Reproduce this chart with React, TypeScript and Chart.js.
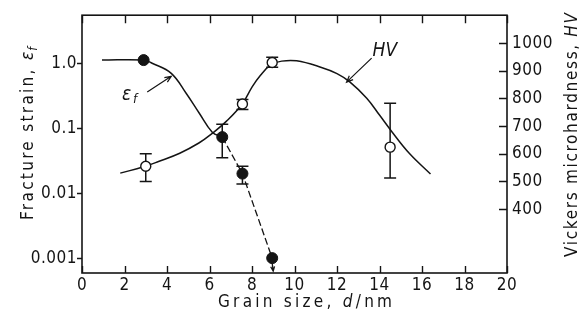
import React, { useEffect, useRef } from "react";
import { Chart, registerables } from "chart.js";
Chart.register(...registerables);

// ---------- data ----------
const xTickValues = [0, 2, 4, 6, 8, 10, 12, 14, 16, 18, 20];
const strainTickValues = [0.001, 0.01, 0.1, 1];
const strainTickLabels = ["0.001", "0.01", "0.1", "1.0"];
const hvTickValues = [400, 500, 600, 700, 800, 900, 1000];
const hvTickLabels = ["400", "500", "600", "700", "800", "900", "1000"];

// fracture strain measured points (filled)
const strainPointX = [2.9, 6.6, 7.55, 8.95];
const strainPointY = [1.12, 0.073, 0.02, 0.001];
const strainErrLow = [null, 0.035, 0.0138, null];
const strainErrHigh = [null, 0.115, 0.026, null];

// fracture strain guide curve (solid)
const strainCurveX = [0.94, 2.9, 3.3, 4.2, 4.9, 5.52, 6.13, 6.6];
const strainCurveY = [1.12, 1.12, 1.0, 0.7, 0.345, 0.17, 0.087, 0.073];

// microhardness measured points (open)
const hvPointX = [3.0, 7.55, 8.95, 14.5];
const hvPointY = [555, 780, 930, 624];
const hvErrLow = [500, 760, 913, 512];
const hvErrHigh = [600, 796, 949, 783];

// microhardness guide curve
const hvCurveX = [1.8, 2.9, 3.6, 4.6, 5.5, 6.1, 6.8, 7.55, 8.0, 8.4, 8.9, 9.4, 10.1, 11.2, 12.0, 12.6, 13.4, 14.0, 14.6, 15.4, 16.4];
const hvCurveY = [530, 553, 572, 602, 639, 672, 718, 781, 841, 884, 922, 935, 936, 914, 890, 860, 801, 740, 678, 602, 527];

// ---------- styling ----------
const FAMILY = "'Liberation Sans Narrow', 'DejaVu Sans Condensed', 'Liberation Sans', sans-serif";
const INK = "#141414";

function drawRich(ctx: CanvasRenderingContext2D, segs: any[], cx: number, cy: number, rot: number, target: number) {
  ctx.save();
  ctx.translate(cx, cy);
  ctx.rotate(rot);
  (ctx as any).letterSpacing = "0px";
  let w = 0;
  let n = 0;
  for (const s of segs) {
    ctx.font = s.font;
    w += ctx.measureText(s.text).width;
    if (!s.tight) n += Array.from(s.text as string).length;
  }
  const ls = Math.max(0, (target - w) / Math.max(1, n - 1));
  let x = -(w + (n - 1) * ls) / 2;
  ctx.textAlign = "left";
  ctx.textBaseline = "alphabetic";
  ctx.fillStyle = INK;
  for (const s of segs) {
    ctx.font = s.font;
    (ctx as any).letterSpacing = "0px";
    const sw = ctx.measureText(s.text).width;
    if (s.tight) {
      x -= ls;
      ctx.fillText(s.text, x + (s.dx || 0), s.dy || 0);
      x += sw;
      continue;
    }
    (ctx as any).letterSpacing = ls + "px";
    ctx.fillText(s.text, x, s.dy || 0);
    x += sw + Array.from(s.text as string).length * ls;
  }
  ctx.restore();
}

function arrow(ctx: CanvasRenderingContext2D, x1: number, y1: number, x2: number, y2: number, head: number) {
  const a = Math.atan2(y2 - y1, x2 - x1);
  ctx.beginPath();
  ctx.moveTo(x1, y1);
  ctx.lineTo(x2, y2);
  ctx.moveTo(x2 - head * Math.cos(a - 0.4), y2 - head * Math.sin(a - 0.4));
  ctx.lineTo(x2, y2);
  ctx.lineTo(x2 - head * Math.cos(a + 0.4), y2 - head * Math.sin(a + 0.4));
  ctx.stroke();
}

const customPlugin = {
  id: "custom",
  beforeDraw(chart: any) {
    (chart.ctx as any).letterSpacing = "0.5px";
  },
  beforeDatasetsDraw(chart: any) {
    const ctx = chart.ctx as CanvasRenderingContext2D;
    const xs = chart.scales.x;
    const ys = chart.scales.y;
    const y1 = chart.scales.y1;
    ctx.save();
    ctx.strokeStyle = INK;
    ctx.lineWidth = 1.5;
    const bar = (px: number, a: number, b: number) => {
      ctx.beginPath();
      ctx.moveTo(px, a);
      ctx.lineTo(px, b);
      ctx.moveTo(px - 6, a);
      ctx.lineTo(px + 6, a);
      ctx.moveTo(px - 6, b);
      ctx.lineTo(px + 6, b);
      ctx.stroke();
    };
    strainPointX.forEach((xv, i) => {
      const lo = strainErrLow[i];
      const hi = strainErrHigh[i];
      if (lo == null || hi == null) return;
      bar(xs.getPixelForValue(xv), ys.getPixelForValue(hi), ys.getPixelForValue(lo));
    });
    hvPointX.forEach((xv, i) => {
      bar(xs.getPixelForValue(xv), y1.getPixelForValue(hvErrHigh[i]), y1.getPixelForValue(hvErrLow[i]));
    });
    ctx.restore();
  },
  afterDraw(chart: any) {
    const ctx = chart.ctx as CanvasRenderingContext2D;
    const { left, right, top, bottom } = chart.chartArea;
    const xs = chart.scales.x;
    const ys = chart.scales.y;
    const y1 = chart.scales.y1;
    ctx.save();
    (ctx as any).letterSpacing = "0px";
    ctx.strokeStyle = INK;
    ctx.lineWidth = 1.6;
    ctx.strokeRect(left, top, right - left, bottom - top);
    ctx.lineWidth = 1.4;
    ctx.beginPath();
    xTickValues.forEach((v) => {
      const px = Math.round(xs.getPixelForValue(v)) + 0.5;
      ctx.moveTo(px, bottom);
      ctx.lineTo(px, bottom - 7);
      ctx.moveTo(px, top);
      ctx.lineTo(px, top + 8);
    });
    strainTickValues.forEach((v) => {
      const py = Math.round(ys.getPixelForValue(v)) + 0.5;
      ctx.moveTo(left - 5, py);
      ctx.lineTo(left, py);
    });
    hvTickValues.forEach((v) => {
      const py = Math.round(y1.getPixelForValue(v)) + 0.5;
      ctx.moveTo(right, py);
      ctx.lineTo(right - 8, py);
    });
    ctx.stroke();

    // arrow below the last strain point (upper bound)
    const lx = xs.getPixelForValue(strainPointX[3]);
    const ly = ys.getPixelForValue(strainPointY[3]);
    ctx.lineWidth = 1.3;
    arrow(ctx, lx, ly + 5, lx + 1, ly + 13, 5);

    // annotation labels with pointers
    ctx.lineWidth = 1.2;
    arrow(ctx, xs.getPixelForValue(3.07), ys.getPixelForValue(0.36), xs.getPixelForValue(4.2), ys.getPixelForValue(0.63), 7);
    arrow(ctx, xs.getPixelForValue(13.63), y1.getPixelForValue(946), xs.getPixelForValue(12.45), y1.getPixelForValue(859), 7);

    ctx.fillStyle = INK;
    ctx.textBaseline = "alphabetic";
    ctx.textAlign = "left";
    const ex = xs.getPixelForValue(2.26);
    const ey = ys.getPixelForValue(0.345);
    ctx.font = `italic 19px ${FAMILY}`;
    ctx.fillText("ε", ex - 8, ey + 7);
    ctx.font = `italic 13px ${FAMILY}`;
    ctx.fillText("f", ex + 3, ey + 10);
    const hx = xs.getPixelForValue(14.25);
    const hy = y1.getPixelForValue(978);
    ctx.font = `italic 19px ${FAMILY}`;
    ctx.textAlign = "center";
    ctx.fillText("HV", hx, hy + 7);
    ctx.textAlign = "left";

    // axis titles
    const reg = `17px ${FAMILY}`;
    const ital = `italic 17px ${FAMILY}`;
    drawRich(ctx, [
      { text: "Grain size, ", font: reg },
      { text: "d", font: ital },
      { text: "/nm", font: reg },
    ], 305, 307, 0, 174);
    drawRich(ctx, [
      { text: "Fracture strain, ", font: reg },
      { text: "ε", font: ital },
      { text: "f", font: `italic 12px ${FAMILY}`, dy: 4, tight: true, dx: 1 },
    ], 33, 134, -Math.PI / 2, 172);
    drawRich(ctx, [
      { text: "Vickers microhardness, ", font: reg },
      { text: "HV", font: ital },
    ], 577, 135, -Math.PI / 2, 244);
    ctx.restore();
  },
};

export default function App() {
  const ref = useRef<HTMLCanvasElement>(null);
  useEffect(() => {
    if (!ref.current) return;
    const tickFont = { family: FAMILY, size: 17 };
    const chart = new Chart(ref.current, {
      type: "line",
      data: {
        datasets: [
          {
            label: "strain points",
            data: strainPointX.map((x, i) => ({ x, y: strainPointY[i] })),
            yAxisID: "y",
            showLine: false,
            pointRadius: 5.5,
            pointBackgroundColor: INK,
            pointBorderColor: INK,
            borderWidth: 1,
            order: 0,
          },
          {
            label: "HV points",
            data: hvPointX.map((x, i) => ({ x, y: hvPointY[i] })),
            yAxisID: "y1",
            showLine: false,
            pointRadius: 5,
            pointBackgroundColor: "#ffffff",
            pointBorderColor: INK,
            pointBorderWidth: 1.4,
            order: 0,
          },
          {
            label: "strain curve",
            data: strainCurveX.map((x, i) => ({ x, y: strainCurveY[i] })),
            yAxisID: "y",
            borderColor: INK,
            borderWidth: 1.5,
            pointRadius: 0,
            tension: 0.4,
            order: 1,
          },
          {
            label: "strain dashed",
            data: strainPointX.slice(1).map((x, i) => ({ x, y: strainPointY[i + 1] })),
            yAxisID: "y",
            borderColor: INK,
            borderWidth: 1.3,
            borderDash: [7, 3],
            pointRadius: 0,
            order: 1,
          },
          {
            label: "HV curve",
            data: hvCurveX.map((x, i) => ({ x, y: hvCurveY[i] })),
            yAxisID: "y1",
            borderColor: INK,
            borderWidth: 1.5,
            pointRadius: 0,
            tension: 0.4,
            order: 1,
          },
        ],
      },
      options: {
        animation: false,
        responsive: false,
        devicePixelRatio: 1,
        color: INK,
        layout: { padding: { top: 15, left: 0, right: 0, bottom: 0 } },
        plugins: { legend: { display: false }, tooltip: { enabled: false } },
        scales: {
          x: {
            type: "linear",
            position: "bottom",
            min: 0,
            max: 20,
            grid: { display: false, drawTicks: false },
            border: { display: false },
            afterFit: (s: any) => { s.height = 56; },
            afterBuildTicks: (s: any) => { s.ticks = xTickValues.map((v) => ({ value: v })); },
            ticks: { font: tickFont, color: INK, padding: 2, maxRotation: 0, autoSkip: false },
          },
          y: {
            type: "logarithmic",
            position: "left",
            min: 0.00059,
            max: 5.5,
            grid: { display: false, drawTicks: false },
            border: { display: false },
            afterFit: (s: any) => { s.width = 82; },
            afterBuildTicks: (s: any) => { s.ticks = strainTickValues.map((v) => ({ value: v })); },
            ticks: {
              font: tickFont,
              color: INK,
              padding: 5,
              autoSkip: false,
              callback: (_v: any, i: number) => strainTickLabels[i],
            },
          },
          y1: {
            type: "linear",
            position: "right",
            min: 169,
            max: 1101,
            grid: { display: false, drawTicks: false },
            border: { display: false },
            afterFit: (s: any) => { s.width = 74; },
            afterBuildTicks: (s: any) => { s.ticks = hvTickValues.map((v) => ({ value: v })); },
            ticks: {
              font: tickFont,
              color: INK,
              padding: 5,
              autoSkip: false,
              callback: (_v: any, i: number) => hvTickLabels[i],
            },
          },
        },
      },
      plugins: [customPlugin],
    } as any);
    return () => chart.destroy();
  }, []);
  return (
    <div style={{ position: "absolute", left: 0, top: 0, width: 581, height: 329, background: "#fff" }}>
      <canvas ref={ref} width={581} height={329} />
    </div>
  );
}
